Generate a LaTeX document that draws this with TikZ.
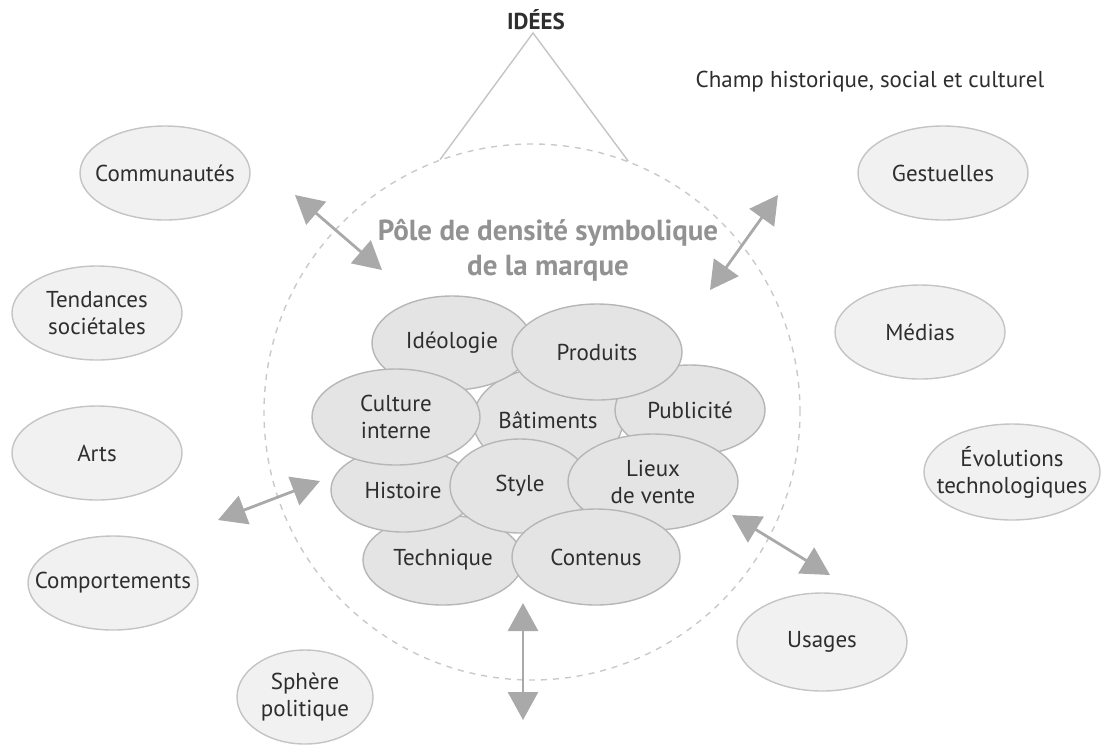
\documentclass[tikz,border=0pt]{standalone}
\usepackage{fontspec}
\setmainfont{PT Sans}
\usetikzlibrary{shapes.geometric, arrows.meta, positioning}

\definecolor{outerfill}{HTML}{F1F1F1}
\definecolor{outerline}{HTML}{C4C4C4}
\definecolor{brandfill}{HTML}{E4E4E4}
\definecolor{brandline}{HTML}{B6B6B6}
\definecolor{arrowgray}{HTML}{A9A9A9}
\definecolor{dashgray}{HTML}{C9C9C9}
\definecolor{polegray}{HTML}{929292}
\definecolor{textdark}{HTML}{2E2E2E}

\begin{document}
\begin{tikzpicture}[
		x=0.5pt, y=-0.5pt,
		font=\fontsize{11.5}{13.5}\selectfont,
		% Text set inside the bubbles
		txt/.style={text=textdark, align=center, font=\fontsize{11.5}{13.5}\selectfont},
		% Bubbles of the surrounding field
		field/.style={ellipse, draw=outerline, fill=outerfill, line width=0.7pt, inner sep=0pt,
			minimum width=85pt, minimum height=47pt},
		% Bubbles of the brand cluster
		brand/.style 2 args={ellipse, draw=brandline, fill=brandfill, line width=0.7pt, inner sep=0pt,
			minimum width=#1pt, minimum height=#2pt},
		% Double arrows between the field and the pole
		link/.style={{Triangle[length=14pt, width=15pt]}-{Triangle[length=14pt, width=15pt]},
			draw=arrowgray, line width=1.4pt},
		pole line/.style={draw=dashgray, line width=0.7pt, dash pattern=on 3pt off 3pt}
	]
	\useasboundingbox (0,0) rectangle (1101,745);
	
	% ==============================================================================
	% 1. POLE, IDEAS TRIANGLE & TITLES
	% ==============================================================================
	\node[circle, pole line, minimum size=268pt, inner sep=0pt] (pole) at (532,412) {};
	\node[font=\bfseries\fontsize{11.5}{13.5}\selectfont, text=textdark] (idees) at (536,20) {IDÉES};
	\coordinate (apex) at (533,33);
	\draw[draw=outerline, line width=0.7pt] (pole.110) -- (apex) -- (pole.69);
	
	\node[text=textdark] (champ) at (870,82) {Champ historique, social et culturel};
	\node[font=\bfseries\fontsize{14.5}{17.5}\selectfont, text=polegray, align=center] (poletitle) at (548,250)
		{Pôle de densité symbolique\\de la marque};
	
	% ==============================================================================
	% 2. BRAND CLUSTER (back to front)
	% ==============================================================================
	\node[brand={75}{52}, label={[txt]center:Bâtiments}] (bat) at (548,420) {};
	\node[brand={80}{47}, label={[txt]center:Idéologie}] (ideo) at (452,343) {};
	\node[brand={75}{45}, label={[txt]center:Publicité}] (publ) at (690,410) {};
	\node[brand={85}{48}, label={[txt]center:Produits}] (prod) at (597,352) {};
	\node[brand={80}{45}, label={[txt]center:Technique}] (tech) at (443,560) {};
	\node[brand={72}{42}, label={[txt]center:Histoire}] (hist) at (403,490) {};
	\node[brand={84}{48}, label={[txt]center:{Culture\\interne}}] (cult) at (396,417) {};
	\node[brand={70}{47}, label={[txt]center:Style}] (style) at (520,486) {};
	\node[brand={85}{48}, label={[txt]center:{Lieux\\de vente}}] (lieux) at (653,482) {};
	\node[brand={84}{48}, label={[txt]center:Contenus}] (cont) at (596,557) {};
	
	% ==============================================================================
	% 3. SURROUNDING FIELD
	% ==============================================================================
	\node[field, label={[txt]center:Communautés}] (comm) at (165,173) {};
	\node[field, label={[txt]center:{Tendances\\sociétales}}] (tend) at (97,313) {};
	\node[field, label={[txt]center:Arts}] (arts) at (97,453) {};
	\node[field, label={[txt]center:Comportements}] (comp) at (113,583) {};
	\node[field, minimum width=68pt, label={[txt]center:{Sphère\\politique}}] (sphere) at (305,697) {};
	\node[field, label={[txt]center:Gestuelles}] (gest) at (943,173) {};
	\node[field, label={[txt]center:Médias}] (medias) at (920,332) {};
	\node[field, minimum width=88pt, minimum height=48pt, label={[txt]center:{Évolutions\\technologiques}}] (evol) at (1012,472) {};
	\node[field, minimum height=49pt, label={[txt]center:Usages}] (usages) at (822,642) {};
	
	% ==============================================================================
	% 4. ARROWS
	% ==============================================================================
	\coordinate (nw out) at (295,195);  \coordinate (nw in) at (382,270);
	\coordinate (ne out) at (778,195);  \coordinate (ne in) at (710,290);
	\coordinate (w out) at (218,520);   \coordinate (w in) at (320,481);
	\coordinate (s in) at (523,603);    \coordinate (s out) at (523,720);
	\coordinate (se in) at (732,515);   \coordinate (se out) at (830,575);
	\draw[link] (nw out) -- (nw in);
	\draw[link] (ne out) -- (ne in);
	\draw[link] (w out) -- (w in);
	\draw[link] (s in) -- (s out);
	\draw[link] (se in) -- (se out);
\end{tikzpicture}
\end{document}
